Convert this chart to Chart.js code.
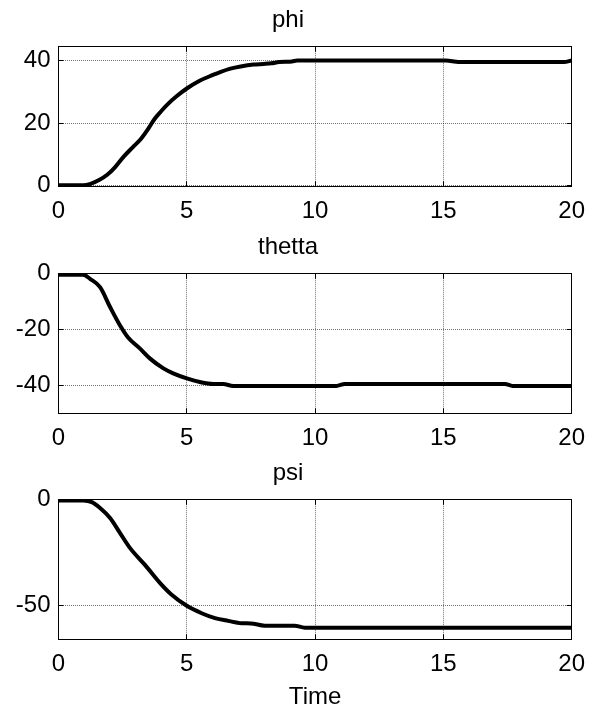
<!DOCTYPE html>
<html>
<head>
<meta charset="utf-8">
<title>phi / thetta / psi</title>
<script src="https://cdn.jsdelivr.net/npm/chart.js@4.4.0/dist/chart.umd.min.js"></script>
<style>
html, body { margin: 0; padding: 0; background: #fff; }
#wrap { position: relative; width: 601px; height: 713px; overflow: hidden; }
.plot { position: absolute; left: 0; }
</style>
</head>
<body>
<div id="wrap">
  <canvas class="plot" id="phiChart" width="601" height="240" style="top:0px"></canvas>
  <canvas class="plot" id="thettaChart" width="601" height="240" style="top:227px"></canvas>
  <canvas class="plot" id="psiChart" width="601" height="260" style="top:453px"></canvas>
</div>
<script>
// values
var timeMin = 0, timeMax = 20, timeStep = 5;

var phiTime = [0, 0.5, 0.97, 1.25, 1.6, 1.9, 2.2, 2.55, 2.9, 3.2, 3.5, 3.75, 4.0, 4.25, 4.6, 5.0, 5.5, 6.0, 6.3, 6.7, 7.1, 7.6, 8.0, 8.3, 8.6, 9.1, 9.3, 12, 15.1, 15.6, 17, 19.7, 20];
var phiVal  = [0, 0, 0, 0.5, 1.8, 3.4, 5.8, 9.3, 12.3, 14.8, 18.2, 21.4, 23.8, 26, 28.6, 31.1, 33.6, 35.4, 36.4, 37.5, 38.2, 38.8, 39.0, 39.2, 39.6, 39.8, 40.1, 40.1, 40.1, 39.6, 39.6, 39.6, 40.1];
var phiTicks = [0, 20, 40];

var thettaTime = [0, 0.95, 1.23, 1.62, 2.01, 2.4, 2.72, 3.18, 3.57, 4.09, 4.47, 5.0, 5.51, 6.03, 6.42, 6.81, 10.83, 11.16, 17.4, 17.7, 20];
var thettaVal  = [-0.3, -0.3, -1.8, -4.8, -11.9, -18.5, -22.9, -26.8, -30.4, -33.9, -35.7, -37.5, -38.8, -39.5, -39.5, -40.2, -40.2, -39.5, -39.5, -40.2, -40.2];
var thettaTicks = [-40, -20, 0];

var psiTime = [0, 0.97, 1.3, 1.62, 2.01, 2.4, 2.79, 3.37, 3.96, 4.41, 5.0, 5.58, 6.1, 6.61, 7.14, 7.5, 8.04, 9.2, 9.6, 20];
var psiVal  = [-0.3, -0.3, -1.1, -3.9, -8.6, -15.7, -22.8, -30.7, -39.3, -44.8, -50, -53.5, -55.8, -57.1, -58.2, -58.3, -59.4, -59.4, -60.3, -60.3];
var psiTicks = [-50, 0];

var FONT = 'Arial, "Liberation Sans", sans-serif';

function toPoints(ts, vs) {
  return ts.map(function (t, i) { return { x: t, y: vs[i] }; });
}

function makePlot(id, title, ts, vs, yMin, yMax, yTicks, xTitle) {
  var canvas = document.getElementById(id);
  var xAxisHeight = canvas.height - 46.8 - 139.5;
  var fixTicks = function (scale) {
    scale.ticks = yTicks.map(function (v) { return { value: v }; });
  };
  var gridOpts = { color: 'rgba(0,0,0,0.55)', lineWidth: 1, tickLength: -5, tickColor: '#000', tickWidth: 1 };
  var borderOpts = { display: true, color: '#000', width: 1, dash: [1, 1] };

  return new Chart(canvas.getContext('2d'), {
    type: 'line',
    data: {
      datasets: [{
        data: toPoints(ts, vs),
        borderColor: '#000',
        borderWidth: 4,
        pointRadius: 0,
        cubicInterpolationMode: 'monotone',
        fill: false
      }]
    },
    options: {
      responsive: false,
      animation: false,
      layout: { padding: { left: 0, right: 25, top: 0, bottom: 0 } },
      plugins: {
        legend: { display: false },
        tooltip: { enabled: false },
        title: {
          display: true,
          text: title,
          color: '#000',
          font: { family: FONT, size: 24, weight: 'normal' },
          padding: { top: 6, bottom: 12 }
        }
      },
      scales: {
        x: {
          type: 'linear',
          position: 'bottom',
          min: timeMin,
          max: timeMax,
          afterFit: function (s) { s.height = xAxisHeight; },
          ticks: { stepSize: timeStep, color: '#000', padding: 16, maxRotation: 0,
                   font: { family: FONT, size: 24 } },
          grid: gridOpts,
          border: borderOpts,
          title: {
            display: !!xTitle,
            text: xTitle || '',
            color: '#000',
            font: { family: FONT, size: 24 },
            padding: { top: 0, bottom: 1 }
          }
        },
        xTop: {
          type: 'linear',
          position: 'top',
          min: timeMin,
          max: timeMax,
          afterFit: function (s) { s.height = 0; },
          ticks: { stepSize: timeStep, display: false },
          grid: { drawOnChartArea: false, tickLength: -5, tickColor: '#000' },
          border: { display: true, color: '#000', width: 1 }
        },
        y: {
          type: 'linear',
          position: 'left',
          min: yMin,
          max: yMax,
          afterBuildTicks: fixTicks,
          afterFit: function (s) { s.width = 58.5; },
          ticks: { color: '#000', padding: 13, font: { family: FONT, size: 24 } },
          grid: gridOpts,
          border: borderOpts
        },
        yRight: {
          type: 'linear',
          position: 'right',
          min: yMin,
          max: yMax,
          afterBuildTicks: fixTicks,
          afterFit: function (s) { s.width = 0; },
          ticks: { display: false },
          grid: { drawOnChartArea: false, tickLength: -5, tickColor: '#000' },
          border: { display: true, color: '#000', width: 1 }
        }
      }
    }
  });
}

makePlot('phiChart', 'phi', phiTime, phiVal, -0.3, 44.5, phiTicks);
makePlot('thettaChart', 'thetta', thettaTime, thettaVal, -50, 0, thettaTicks);
makePlot('psiChart', 'psi', psiTime, psiVal, -65.8, 0, psiTicks, 'Time');
</script>
</body>
</html>
